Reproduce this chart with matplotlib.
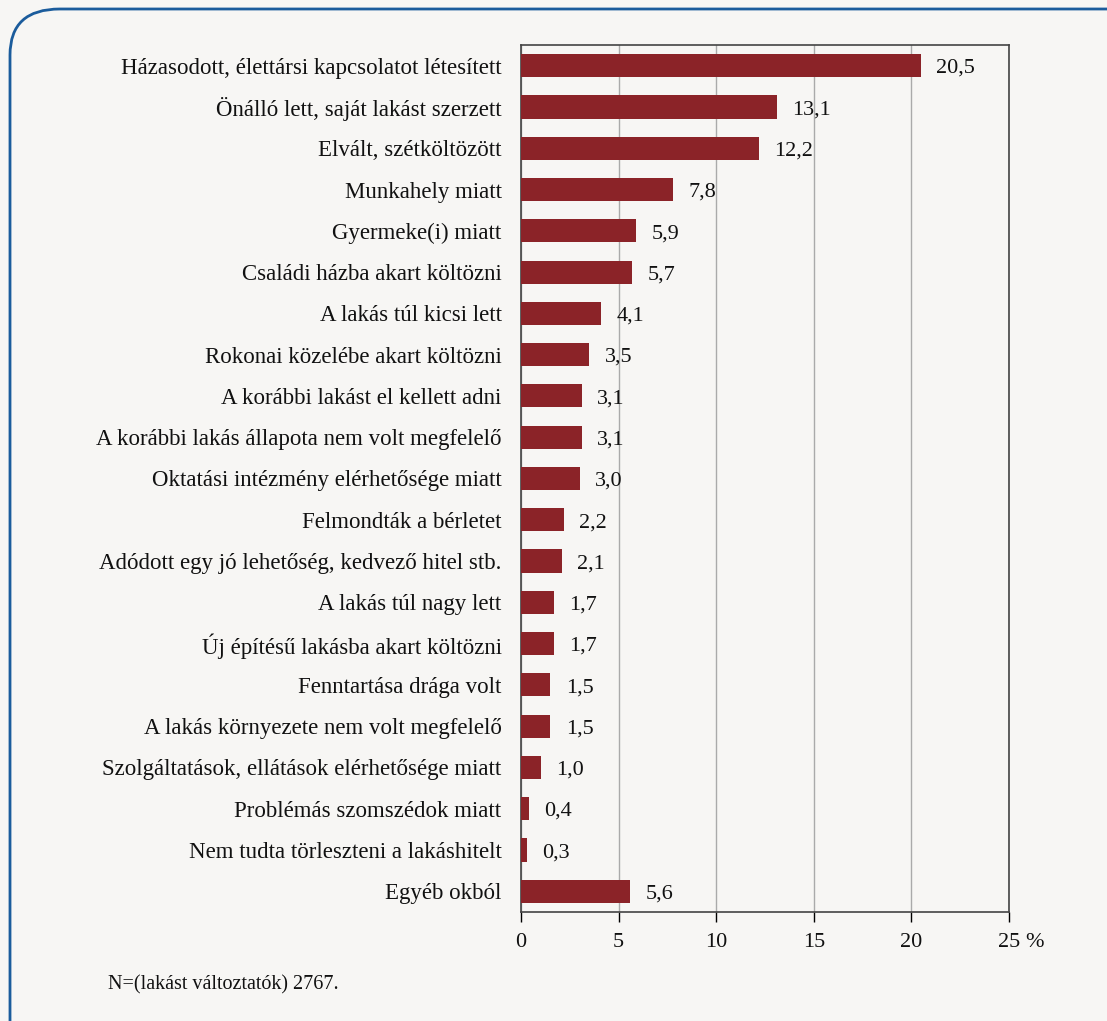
import matplotlib.pyplot as plt
from matplotlib.patches import FancyBboxPatch

plt.rcParams['font.family'] = ['Liberation Serif', 'DejaVu Serif']

kategoriak = [
    'Házasodott, élettársi kapcsolatot létesített',
    'Önálló lett, saját lakást szerzett',
    'Elvált, szétköltözött',
    'Munkahely miatt',
    'Gyermeke(i) miatt',
    'Családi házba akart költözni',
    'A lakás túl kicsi lett',
    'Rokonai közelébe akart költözni',
    'A korábbi lakást el kellett adni',
    'A korábbi lakás állapota nem volt megfelelő',
    'Oktatási intézmény elérhetősége miatt',
    'Felmondták a bérletet',
    'Adódott egy jó lehetőség, kedvező hitel stb.',
    'A lakás túl nagy lett',
    'Új építésű lakásba akart költözni',
    'Fenntartása drága volt',
    'A lakás környezete nem volt megfelelő',
    'Szolgáltatások, ellátások elérhetősége miatt',
    'Problémás szomszédok miatt',
    'Nem tudta törleszteni a lakáshitelt',
    'Egyéb okból',
]
ertekek = [20.5, 13.1, 12.2, 7.8, 5.9, 5.7, 4.1, 3.5, 3.1, 3.1, 3.0,
           2.2, 2.1, 1.7, 1.7, 1.5, 1.5, 1.0, 0.4, 0.3, 5.6]
x_tickek = [0, 5, 10, 15, 20, 25]
x_cimkek = ['0', '5', '10', '15', '20', '25']

hatter = '#f7f6f4'
bordo = '#8b2328'
betu = 16

fig = plt.figure(figsize=(11.07, 10.21), dpi=100, facecolor=hatter)

# lekerekitett keret (jobb es also szele kilog a kepbol)
keret = FancyBboxPatch((10 / 1107, -0.3), 1.2, 0.3 + 1 - 9 / 1021,
                       boxstyle='round,pad=0,rounding_size=0.045',
                       transform=fig.transFigure, fill=False,
                       edgecolor='#1b5c9c', linewidth=2, zorder=0)
fig.patches.append(keret)

ax = fig.add_axes([0.4707, 0.1068, 0.4408, 0.8491])
ax.set_facecolor(hatter)

y = list(range(len(kategoriak)))
ax.barh(y, ertekek, height=0.56, color=bordo, zorder=3)
for yi, v in zip(y, ertekek):
    ax.annotate(f'{v:.1f}'.replace('.', ','), (v, yi), xytext=(11, -2),
                textcoords='offset points', va='center', ha='left',
                fontsize=betu, color='#111111')

ax.set_ylim(len(kategoriak) - 0.5, -0.5)
ax.set_xlim(0, 25)
ax.set_yticks(y)
ax.set_yticklabels(kategoriak, fontsize=16.5, color='#111111')
ax.tick_params(axis='y', length=0, pad=14)
ax.set_xticks(x_tickek)
ax.set_xticklabels(x_cimkek, fontsize=betu, color='#111111')
ax.tick_params(axis='x', length=7, width=1, direction='out', pad=8)
ax.xaxis.grid(True, color='#aaaaaa', linewidth=1, zorder=0)
for s in ax.spines.values():
    s.set_color('#444444')
    s.set_linewidth(1.2)

# a "%" jel az utolso tick felirat utan
ax.annotate('%', (1, 0), xycoords='axes fraction', xytext=(12, -15),
            textcoords='offset points', ha='left', va='top',
            fontsize=betu, color='#111111')

fig.text(108 / 1107, 1 - 985 / 1021, 'N=(lakást változtatók) 2767.',
         fontsize=14.5, va='center', ha='left', color='#111111')

fig.savefig('out.png', dpi=100, facecolor=hatter)
